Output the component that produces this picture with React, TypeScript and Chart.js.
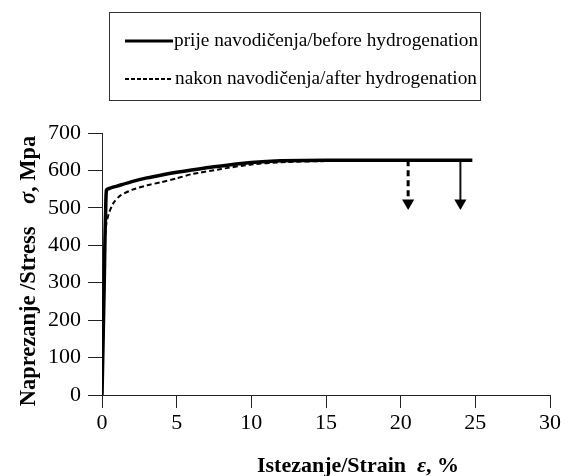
import React, { useEffect, useRef } from "react";
import { Chart, registerables } from "chart.js";

Chart.register(...registerables);

const beforeStrain = [0, 0.05, 0.1, 0.15, 0.2, 0.25, 0.3, 0.5, 1, 2, 3, 4, 5, 6, 7, 8, 9, 10, 11, 12, 15, 18, 20, 24, 24.8];
const beforeStress = [0, 100, 200, 300, 420, 500, 548, 552, 558, 570, 580, 588, 595, 601, 607, 612, 617, 621, 624, 626, 627, 627, 627, 627, 627];

const afterStrain = [0, 0.05, 0.1, 0.15, 0.2, 0.3, 0.5, 0.8, 1.2, 2, 3, 4, 5, 6, 8, 10, 12, 15, 18, 20.5];
const afterStress = [0, 100, 200, 330, 420, 460, 490, 515, 532, 548, 560, 569, 579, 590, 604, 616, 622, 625, 627, 627];

const beforeArrowX = [24, 24];
const beforeArrowY = [627, 513];
const afterArrowX = [20.5, 20.5];
const afterArrowY = [627, 513];

const xTicks = [0, 5, 10, 15, 20, 25, 30];
const yTicks = [0, 100, 200, 300, 400, 500, 600, 700];

const legendLabels = [
  "prije navodičenja/before hydrogenation",
  "nakon navodičenja/after hydrogenation",
];
const xTitleParts = ["Istezanje/Strain  ", "ε", ", %"];
const yTitleParts = ["Naprezanje /Stress    ", "σ", ", Mpa"];

const FONT = "'Liberation Serif', 'Times New Roman', serif";

const pts = (xs: number[], ys: number[]) => xs.map((x, i) => ({ x, y: ys[i] }));

function drawParts(ctx: CanvasRenderingContext2D, parts: string[], cx: number, cy: number, size: number) {
  const fonts = [`bold ${size}px ${FONT}`, `italic bold ${size}px ${FONT}`, `bold ${size}px ${FONT}`];
  const widths = parts.map((p, i) => {
    ctx.font = fonts[i];
    return ctx.measureText(p).width;
  });
  const total = widths.reduce((a, b) => a + b, 0);
  let x = cx - total / 2;
  ctx.textAlign = "left";
  ctx.textBaseline = "middle";
  parts.forEach((p, i) => {
    ctx.font = fonts[i];
    ctx.fillText(p, x, cy);
    x += widths[i];
  });
}

const overlayPlugin = {
  id: "overlay",
  afterDraw(chart: any) {
    const ctx = chart.ctx as CanvasRenderingContext2D;
    ctx.save();
    ctx.strokeStyle = "#333";
    ctx.lineWidth = 1;
    ctx.strokeRect(109.5, 12.5, 371, 88);
    ctx.fillStyle = "#000";
    ctx.strokeStyle = "#000";
    ctx.lineWidth = 3;
    ctx.setLineDash([]);
    ctx.beginPath();
    ctx.moveTo(125, 41);
    ctx.lineTo(173, 41);
    ctx.stroke();
    ctx.lineWidth = 2;
    ctx.setLineDash([4, 2]);
    ctx.beginPath();
    ctx.moveTo(125, 79);
    ctx.lineTo(173, 79);
    ctx.stroke();
    ctx.setLineDash([]);
    ctx.font = `19.3px ${FONT}`;
    ctx.textAlign = "left";
    ctx.textBaseline = "middle";
    ctx.fillText(legendLabels[0], 174, 41);
    ctx.fillText(legendLabels[1], 175, 79);
    drawParts(ctx, xTitleParts, 358, 466, 22);
    ctx.translate(29, 271);
    ctx.rotate(-Math.PI / 2);
    drawParts(ctx, yTitleParts, 0, 0, 22.5);
    ctx.restore();
  },
};

export default function App() {
  const ref = useRef<HTMLCanvasElement>(null);
  useEffect(() => {
    if (!ref.current) return;
    const arrowRadius = (c: any) => (c.dataIndex === 1 ? 7 : 0);
    const chart = new Chart(ref.current, {
      type: "line",
      data: {
        datasets: [
          {
            label: legendLabels[0],
            data: pts(beforeStrain, beforeStress),
            borderColor: "#000",
            borderWidth: 3.5,
            pointRadius: 0,
            tension: 0.2,
          },
          {
            label: legendLabels[1],
            data: pts(afterStrain, afterStress),
            borderColor: "#000",
            borderWidth: 2,
            borderDash: [5, 3],
            pointRadius: 0,
            tension: 0.2,
          },
          {
            label: "arrow1",
            data: pts(beforeArrowX, beforeArrowY),
            borderColor: "#111",
            borderWidth: 2,
            pointRadius: arrowRadius,
            pointStyle: "triangle",
            pointRotation: 180,
            pointBackgroundColor: "#000",
            pointBorderWidth: 0,
          },
          {
            label: "arrow2",
            data: pts(afterArrowX, afterArrowY),
            borderColor: "#000",
            borderWidth: 3,
            borderDash: [6, 4],
            pointRadius: arrowRadius,
            pointStyle: "triangle",
            pointRotation: 180,
            pointBackgroundColor: "#000",
            pointBorderWidth: 0,
          },
        ],
      },
      options: {
        animation: false,
        responsive: false,
        layout: { padding: { left: 0, top: 133, right: 20, bottom: 0 } },
        plugins: { legend: { display: false }, tooltip: { enabled: false } },
        scales: {
          x: {
            type: "linear",
            min: 0,
            max: 30,
            afterFit: (s: any) => {
              s.height = 81;
            },
            afterBuildTicks: (s: any) => {
              s.ticks = xTicks.map((v) => ({ value: v }));
            },
            grid: { drawOnChartArea: false, color: "#222", tickLength: 13, lineWidth: 1 },
            border: { display: true, color: "#222", width: 1 },
            ticks: { color: "#000", font: { family: FONT, size: 22 }, padding: 2, maxRotation: 0 },
          },
          y: {
            type: "linear",
            min: 0,
            max: 700,
            afterFit: (s: any) => {
              s.width = 102;
            },
            afterBuildTicks: (s: any) => {
              s.ticks = yTicks.map((v) => ({ value: v }));
            },
            grid: { drawOnChartArea: false, color: "#222", tickLength: 14, lineWidth: 1 },
            border: { display: true, color: "#222", width: 1 },
            ticks: { color: "#000", font: { family: FONT, size: 22 }, padding: 7 },
          },
        },
      },
      plugins: [overlayPlugin],
    });
    return () => chart.destroy();
  }, []);
  return (
    <div style={{ position: "absolute", left: 0, top: 0, width: 570, height: 476, background: "#fff" }}>
      <canvas ref={ref} width={570} height={476} />
    </div>
  );
}
